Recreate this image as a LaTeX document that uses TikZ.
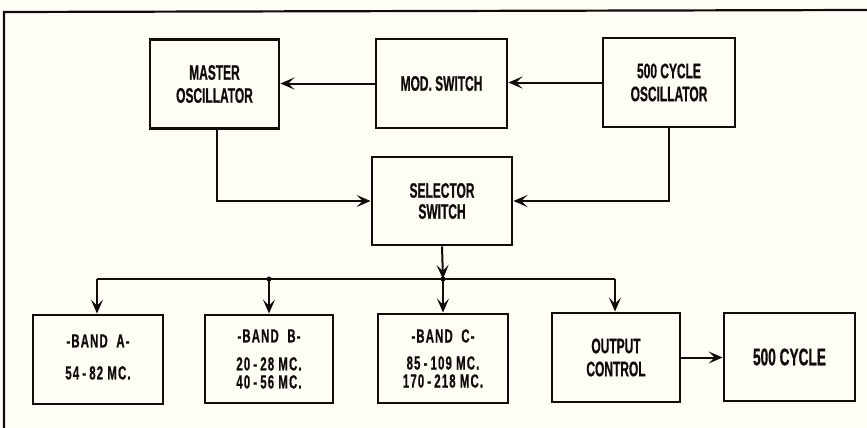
\documentclass[tikz,border=0pt]{standalone}
\usepackage{fontspec}
\setmainfont[FakeStretch=0.57,FakeBold=0.6]{Liberation Sans Bold}
\newfontfamily\bandfont[FakeStretch=0.6,FakeBold=0.6,LetterSpace=6]{Liberation Sans Bold}
\usetikzlibrary{arrows.meta}
\definecolor{paper}{RGB}{254,254,247}
\definecolor{ink}{RGB}{15,12,10}
\begin{document}
\begin{tikzpicture}[x=1pt,y=-1pt,
  blk/.style={draw=ink,line width=2.9pt,inner sep=0pt,align=center,text=ink,
    font=\fontsize{21}{23}\selectfont},
  bandtxt/.style={font=\bandfont\fontsize{19}{18}\selectfont},
  wire/.style={draw=ink,line width=2pt},
  arr/.style={wire,-{Stealth[length=14pt,width=12pt,inset=6pt]}},
  jdot/.style={circle,fill=ink,inner sep=0pt,minimum size=5pt}]
\fill[paper] (0,0) rectangle (867,428);
\useasboundingbox (0,0) rectangle (867,428);
% frame
\coordinate (fTL) at (4,12);
\coordinate (fBL) at (4,428);
\coordinate (fTR) at (867,10);
\draw[ink,line width=2.2pt] (fBL) -- (fTL) -- (fTR);
% top row
\node[blk,minimum width=129pt,minimum height=89pt] (mo) at (214.5,84) {MASTER\\OSCILLATOR};
\node[blk,minimum width=131pt,minimum height=89pt] (ms) at (441.5,83.5) {MOD. SWITCH};
\node[blk,minimum width=132pt,minimum height=89pt] (co) at (669,82.5) {500 CYCLE\\OSCILLATOR};
% selector
\node[blk,minimum width=140pt,minimum height=88pt,font=\fontsize{21}{21}\selectfont] (ss) at (442,201) {SELECTOR\\SWITCH};
% bottom row
\node[blk,minimum width=130pt,minimum height=89pt] (ba) at (98,359.5) {};
\node[align=center,text=ink,bandtxt,inner sep=0pt] (baT) at (98,357) {-BAND\ \ A-\\[14pt]54\,-\,82 MC.};
\node[blk,bandtxt,minimum width=128pt,minimum height=88pt] (bb) at (269,359) {-BAND\ \ B-\\[10pt]20\,-\,28 MC.\\40\,-\,56 MC.};
\node[blk,bandtxt,minimum width=130pt,minimum height=89pt] (bc) at (443,358.5) {-BAND\ \ C-\\[9pt]85\,-\,109 MC.\\170\,-\,218 MC.};
\node[blk,minimum width=128pt,minimum height=89pt] (oc) at (616,357.5) {OUTPUT\\CONTROL};
\node[blk,minimum width=131pt,minimum height=88pt,font=\fontsize{24}{24}\selectfont] (fc) at (789.5,357) {500 CYCLE};
% connectors top
\draw[arr] (co.west) -- (co.west -| ms.east);
\draw[arr] (ms.west) -- (ms.west -| mo.east);
\draw[arr] ([xshift=2.5pt]mo.south) |- (ss.west);
\draw[arr] (co.south) |- (ss.east);
% bus
\coordinate (bus) at (443,279);
\coordinate (busL) at (97,279);
\coordinate (busR) at (615,279);
\coordinate (busB) at (269,279);
\draw[arr] (ss.south) -- (bus);
\draw[wire] (busL) -- (busR);
\draw[arr] (busL) -- (busL |- ba.north);
\draw[arr] (busB) -- (busB |- bb.north);
\draw[arr] (bus) -- (bc.north);
\draw[arr] (busR) -- (busR |- oc.north);
\node[jdot] (j1) at (busB) {};
\node[jdot] (j2) at (bus) {};
\draw[arr] (oc.east) -- (oc.east -| fc.west);
\end{tikzpicture}
\end{document}
